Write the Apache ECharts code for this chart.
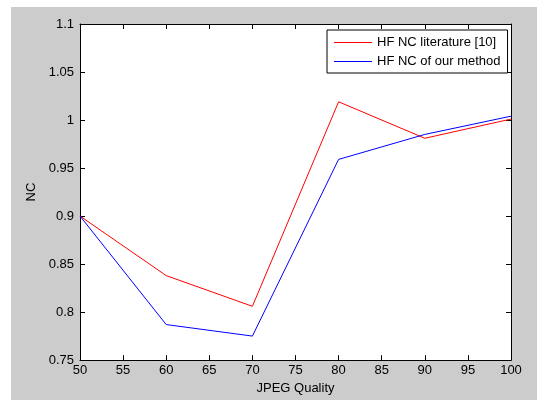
<!DOCTYPE html>
<html><head><meta charset="utf-8">
<script src="https://cdn.jsdelivr.net/npm/echarts@6/dist/echarts.min.js"></script>
<style>html,body{margin:0;padding:0;background:#fff}#c{width:537px;height:400px}</style>
</head><body><div id="c"></div>
<script>
const quality = [50, 60, 70, 80, 90, 100];
const literatureNC = [0.900, 0.838, 0.806, 1.019, 0.981, 1.001];
const ourMethodNC = [0.900, 0.787, 0.775, 0.959, 0.985, 1.004];
const seriesNames = ['HF NC literature [10]', 'HF NC of our method'];
const xTitle = 'JPEG Quality';
const yTitle = 'NC';

const chart = echarts.init(document.getElementById('c'), null, {renderer: 'canvas'});
const font = 'Liberation Sans, Arial, sans-serif';
const axisCommon = {
  axisLine: {show: true, lineStyle: {color: '#000', width: 1}},
  axisTick: {show: true, inside: true, length: 5, lineStyle: {color: '#000'}},
  splitLine: {show: false}
};
const fmtY = v => String(parseFloat(v.toFixed(2)));
chart.setOption({
  backgroundColor: '#fff',
  animation: false,
  graphic: [{type: 'rect', z: -10, shape: {x: 11, y: 7, width: 526, height: 393}, style: {fill: '#cccccc'}}],
  grid: {left: 80, top: 24, right: 26, bottom: 37, show: true, backgroundColor: '#fff', borderWidth: 0},
  legend: {
    orient: 'vertical', left: 327, top: 30,
    backgroundColor: '#fff', borderColor: '#000', borderWidth: 1,
    padding: [6, 7, 5, 7], itemGap: 6, itemWidth: 38, itemHeight: 1,
    icon: 'rect',
    textStyle: {fontFamily: font, fontSize: 13, color: '#000'},
    data: seriesNames
  },
  xAxis: [
    Object.assign({type: 'value', min: 50, max: 100, interval: 5, position: 'bottom',
      name: xTitle, nameLocation: 'middle', nameGap: 20,
      nameTextStyle: {fontFamily: font, fontSize: 13, color: '#000'},
      axisLabel: {fontFamily: font, fontSize: 13, color: '#000', margin: 4}}, axisCommon),
    Object.assign({type: 'value', min: 50, max: 100, interval: 5, position: 'top',
      axisLabel: {show: false}}, axisCommon)
  ],
  yAxis: [
    Object.assign({type: 'value', min: 0.75, max: 1.1, interval: 0.05, position: 'left',
      name: yTitle, nameLocation: 'middle', nameGap: 35, nameRotate: 90,
      nameTextStyle: {fontFamily: font, fontSize: 13, color: '#000'},
      axisLabel: {fontFamily: font, fontSize: 13, color: '#000', margin: 6, formatter: fmtY}}, axisCommon),
    Object.assign({type: 'value', min: 0.75, max: 1.1, interval: 0.05, position: 'right',
      axisLabel: {show: false}}, axisCommon)
  ],
  series: [
    {name: seriesNames[0], type: 'line', symbol: 'none', color: '#ff0000',
     lineStyle: {width: 1, color: '#ff0000'},
     data: quality.map((q, i) => [q, literatureNC[i]])},
    {name: seriesNames[1], type: 'line', symbol: 'none', color: '#0000ff',
     lineStyle: {width: 1, color: '#0000ff'},
     data: quality.map((q, i) => [q, ourMethodNC[i]])}
  ]
});
</script></body></html>
